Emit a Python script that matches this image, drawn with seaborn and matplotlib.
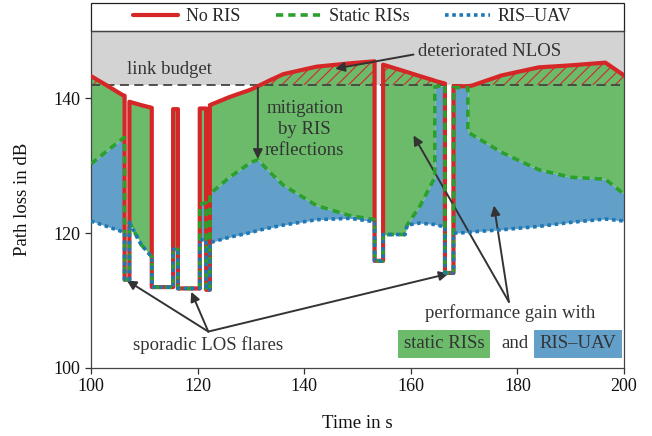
import numpy as np
import pandas as pd
import matplotlib
matplotlib.use("Agg")
import matplotlib.pyplot as plt
from matplotlib.patches import Rectangle
import seaborn as sns

# time axis (s) with duplicated stamps where the curves jump (LOS flares)
time_s = [100.0, 103.0, 105.9, 106.3, 106.3, 107.2, 107.2, 109.4, 111.4, 111.4,
          115.4, 115.4, 116.3, 116.3, 120.4, 120.4, 121.6, 121.6, 122.3, 122.3,
          126.0, 130.0, 131.3, 133.6, 136.1, 142.3, 148.6, 153.2, 153.2, 154.8,
          154.8, 158.9, 159.3, 161.7, 164.2, 164.5, 164.5, 166.4, 166.4, 168.0,
          168.0, 170.7, 170.7, 171.5, 177.0, 184.0, 190.0, 196.5, 200.0]
no_ris = [143.3, 141.9, 140.5, 140.4, 113.1, 113.1, 139.5, 139.0, 138.6, 112.0,
          112.0, 138.4, 138.4, 111.8, 111.8, 138.5, 138.5, 111.6, 111.6, 139.0,
          140.2, 141.3, 141.8, 142.7, 143.6, 144.7, 145.2, 145.5, 115.9, 115.9,
          145.0, 144.0, 143.9, 143.3, 142.7, 142.6, 142.6, 142.2, 114.1, 114.1,
          141.8, 141.8, 141.8, 141.9, 143.4, 144.6, 144.9, 145.3, 143.4]
static_ris = [130.3, 132.2, 134.0, 134.2, 113.1, 113.1, 121.6, 118.3, 116.5, 112.0,
              112.0, 117.6, 117.6, 111.8, 111.8, 124.3, 124.5, 111.6, 111.6, 125.8,
              128.3, 130.5, 130.9, 129.0, 127.1, 124.1, 122.6, 122.0, 115.9, 115.9,
              119.8, 119.8, 121.2, 124.0, 127.8, 128.2, 141.7, 141.9, 114.1, 114.1,
              141.6, 141.6, 135.0, 134.6, 132.0, 129.4, 128.3, 128.0, 125.8]
ris_uav = [121.8, 121.0, 120.2, 120.1, 113.1, 113.1, 121.6, 118.3, 116.5, 112.0,
           112.0, 117.6, 117.6, 111.8, 111.8, 119.0, 119.0, 111.6, 111.6, 118.6,
           119.4, 120.1, 120.4, 120.8, 121.2, 122.0, 122.2, 121.7, 115.9, 115.9,
           119.8, 119.8, 121.2, 121.5, 121.3, 121.3, 121.3, 120.9, 114.1, 114.1,
           120.0, 120.1, 120.1, 120.2, 120.5, 121.0, 121.6, 122.1, 121.8]
link_budget = 142.0

df = pd.DataFrame({"t": time_s, "No RIS": no_ris, "Static RISs": static_ris, "RIS–UAV": ris_uav})

red = "#d62728"
green = "#2ca02c"
blue = "#1f77b4"
green_fill = "#6bbb6b"
blue_fill = "#62a0ca"
txt = "#333333"

sns.set_theme(style="ticks")
plt.rcParams["font.family"] = ["Liberation Serif", "DejaVu Serif"]
plt.rcParams["hatch.linewidth"] = 0.8

fig = plt.figure(figsize=(6.52, 4.36), dpi=100)
ax = fig.add_axes([0.1396, 0.156, 0.8175, 0.773])

t = df["t"].values
nr = df["No RIS"].values
st = df["Static RISs"].values
uv = df["RIS–UAV"].values

# regions
ax.fill_between([100, 200], link_budget, 150, color="#d3d3d3", lw=0, zorder=0)
ax.fill_between(t, st, nr, color=green_fill, lw=0, zorder=1)
ax.fill_between(t, uv, st, color=blue_fill, lw=0, zorder=1)
ax.fill_between(t, link_budget, nr, where=nr > link_budget, interpolate=True,
                facecolor="none", edgecolor=red, hatch="///", lw=0, zorder=2)
ax.axhline(link_budget, color="#444444", lw=1.3, ls=(0, (5, 3)), zorder=2)

sns.lineplot(data=df, x="t", y="No RIS", estimator=None, sort=False, ax=ax,
             color=red, lw=3.0, label="No RIS", zorder=3)
sns.lineplot(data=df, x="t", y="Static RISs", estimator=None, sort=False, ax=ax,
             color=green, lw=2.6, ls=(0, (2, 1.4)), label="Static RISs", zorder=4)
sns.lineplot(data=df, x="t", y="RIS–UAV", estimator=None, sort=False, ax=ax,
             color=blue, lw=2.6, ls=(0, (1, 1)), label="RIS–UAV", zorder=5)

ax.set_xlim(100, 200)
ax.set_ylim(100, 150)
ax.set_xticks([100, 120, 140, 160, 180, 200])
ax.set_yticks([100, 120, 140])
ax.set_xlabel("Time in s", fontsize=13.5, labelpad=14, color="#111111")
ax.set_ylabel("Path loss in dB", fontsize=13.5, labelpad=16, color="#111111")
ax.tick_params(labelsize=13, length=4, width=0.9, color="#333333", labelcolor="#111111")
for s in ax.spines.values():
    s.set_linewidth(0.9)
    s.set_color("#444444")

# legend above the axes, frame spans the full width
handles, labels = ax.get_legend_handles_labels()
leg = ax.legend(handles, labels, loc="center", bbox_to_anchor=(0.49, 1.0415),
                ncol=3, frameon=False, fontsize=13, handlelength=2.5,
                handletextpad=0.45, columnspacing=1.95, borderaxespad=0)
ax.add_patch(Rectangle((0, 1.0), 1, 0.083, transform=ax.transAxes, fill=False,
                       ec="#222222", lw=0.9, clip_on=False))

arrow = dict(arrowstyle="-|>", color=txt, lw=1.4, mutation_scale=14, shrinkA=0, shrinkB=0)
fs = 13.5

ax.text(114.8, 144.3, "link budget", fontsize=fs, color=txt, ha="center", va="center")
ax.text(174.8, 146.9, "deteriorated NLOS", fontsize=fs, color=txt, ha="center", va="center")
ax.annotate("", xy=(145.8, 144.4), xytext=(160.5, 146.5), arrowprops=arrow)
ax.annotate("", xy=(131.3, 131.0), xytext=(131.3, 141.6), arrowprops=arrow)
ax.text(140.1, 135.4, "mitigation\nby RIS\nreflections", fontsize=fs, color=txt,
        ha="center", va="center", linespacing=1.3)

ax.text(121.9, 103.4, "sporadic LOS flares", fontsize=fs, color=txt, ha="center", va="center")
for tip in [(106.7, 113.0), (118.8, 111.3), (167.1, 114.0)]:
    ax.annotate("", xy=tip, xytext=(122.0, 105.4), arrowprops=arrow)

ax.text(178.6, 108.1, "performance gain with", fontsize=fs, color=txt, ha="center", va="center")
for tip in [(160.5, 134.5), (175.6, 124.1)]:
    ax.annotate("", xy=tip, xytext=(178.4, 109.8), arrowprops=arrow)
ax.text(166.3, 103.6, "static RISs", fontsize=fs, color=txt, ha="center", va="center",
        bbox=dict(boxstyle="square,pad=0.3", fc=green_fill, ec="none"))
ax.text(179.5, 103.6, "and", fontsize=fs, color=txt, ha="center", va="center")
ax.text(191.4, 103.6, "RIS–UAV", fontsize=fs, color=txt, ha="center", va="center",
        bbox=dict(boxstyle="square,pad=0.3", fc=blue_fill, ec="none"))

fig.savefig("out.png", dpi=100)
